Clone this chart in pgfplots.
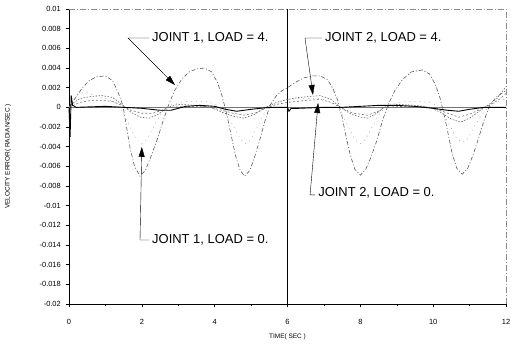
\documentclass[border=0pt]{standalone}
\usepackage{fontspec}
\setmainfont{Liberation Sans}
\usepackage{pgfplots}
\pgfplotsset{compat=1.18}
\usetikzlibrary{arrows.meta}
\begin{document}
\begin{tikzpicture}
\begin{axis}[
  scale only axis, width=437bp, height=295bp,
  xmin=0, xmax=12, ymin=-0.02, ymax=0.01,
  scaled y ticks=false, scaled x ticks=false,
  axis x line*=bottom, axis y line*=left,
  axis line style={-, black, line width=0.6pt},
  xtick={0,2,4,6,8,10,12}, minor xtick={1,3,5,7,9,11},
  ytick={-0.02,-0.018,-0.016,-0.014,-0.012,-0.01,-0.008,-0.006,-0.004,-0.002,0,0.002,0.004,0.006,0.008,0.01},
  yticklabels={-0.02,-0.018,-0.016,-0.014,-0.012,-0.01,-0.008,-0.006,-0.004,-0.002,0,0.002,0.004,0.006,0.008,0.01},
  xticklabels={0,2,4,6,8,10,12},
  tick align=outside, major tick length=3bp, minor tick length=2bp,
  tick style={black, line width=0.5pt},
  xticklabel style={font=\fontsize{7.5}{8}\selectfont, anchor=center, inner sep=0pt, yshift=-15bp},
  yticklabel style={font=\fontsize{7.5}{8}\selectfont, anchor=east, inner sep=0pt, xshift=-5bp},
  /pgf/number format/assume math mode=true,
  xlabel={TIME( SEC )}, ylabel={VELOCITY ERROR( RADIAN/SEC )},
  every axis x label/.style={at={([yshift=-33bp]rel axis cs:0.5,0)}, anchor=center, font=\fontsize{6.5}{7}\selectfont},
  every axis y label/.style={at={([xshift=-61bp]rel axis cs:0,0.5)}, anchor=center, rotate=90, font=\fontsize{6.5}{7}\selectfont},
  clip=false,
]
\coordinate (O) at (rel axis cs:0,0);
\draw[black!45, dash pattern=on 6bp off 2bp on 1bp off 2bp] (rel axis cs:0,1) -- (rel axis cs:1,1) -- (rel axis cs:1,0);
% zero line and t=6 line
\addplot[black!55, line width=0.6pt] coordinates {(0,0) (12,0)};
\addplot[black, line width=0.7pt] coordinates {(6,-0.02) (6,0.01)};
% Joint 1, load = 4 (big)
\addplot[black!65, line width=0.6pt, dash pattern=on 4bp off 2bp on 1bp off 2bp] coordinates {
(0,0) (0.15,0.0008) (0.35,0.0019) (0.55,0.0027) (0.75,0.0031) (1.0,0.0032) (1.2,0.0027) (1.35,0.0015) (1.48,0.0002) (1.58,-0.002) (1.68,-0.0042) (1.8,-0.006) (1.95,-0.007) (2.1,-0.0064) (2.25,-0.005) (2.42,-0.0033) (2.6,-0.0012) (2.75,0.0004) (2.9,0.0017) (3.1,0.0029) (3.3,0.0036) (3.5,0.0039) (3.72,0.004) (3.92,0.0036) (4.08,0.0025) (4.2,0.0012) (4.32,-0.0005) (4.45,-0.0028) (4.58,-0.005) (4.7,-0.0064) (4.82,-0.007) (4.97,-0.0064) (5.1,-0.005) (5.24,-0.0033) (5.38,-0.0014) (5.52,0.0002) (5.7,0.0012) (5.85,0.0017) (6.0,0.002)
(6.2,0.0025) (6.45,0.003) (6.7,0.0032) (6.9,0.0032) (7.1,0.0028) (7.25,0.0019) (7.38,0.0007) (7.5,-0.001) (7.6,-0.0028) (7.72,-0.0048) (7.85,-0.0063) (8.0,-0.0069) (8.15,-0.0063) (8.3,-0.005) (8.46,-0.0033) (8.62,-0.0012) (8.78,0.0004) (8.95,0.0017) (9.15,0.0028) (9.4,0.0036) (9.7,0.0038) (9.9,0.0034) (10.05,0.0024) (10.17,0.0012) (10.28,-0.0004) (10.4,-0.0025) (10.52,-0.0047) (10.65,-0.0062) (10.8,-0.0068) (10.95,-0.0062) (11.1,-0.0048) (11.25,-0.0031) (11.4,-0.0013) (11.55,0.0002) (11.75,0.0011) (12,0.0017)};
% Joint 1, load = 0 (faint)
\addplot[black!35, line width=0.5pt, dash pattern=on 1bp off 4bp] coordinates {
(0,0) (0.2,0.0012) (0.45,0.0016) (0.7,0.0012) (1.0,0.0009) (1.25,0.0005) (1.45,-0.0004) (1.65,-0.0018) (1.85,-0.0033) (2.0,-0.0037) (2.15,-0.0032) (2.35,-0.0018) (2.55,-0.0005) (2.8,0.0003) (3.2,0.0006) (3.7,0.0006) (4.0,0.0004) (4.25,-0.0004) (4.5,-0.0018) (4.7,-0.0032) (4.85,-0.0037) (5.0,-0.0032) (5.2,-0.0018) (5.4,-0.0004) (5.7,0.0005) (6.0,0.0008)
(6.4,0.0009) (6.9,0.0009) (7.2,0.0005) (7.45,-0.0004) (7.65,-0.0018) (7.85,-0.0033) (8.0,-0.0037) (8.15,-0.0032) (8.35,-0.0018) (8.55,-0.0005) (8.8,0.0003) (9.2,0.0006) (9.7,0.0006) (10.0,0.0004) (10.25,-0.0004) (10.45,-0.0018) (10.65,-0.0032) (10.8,-0.0036) (10.95,-0.0032) (11.15,-0.0018) (11.4,-0.0004) (11.7,0.0005) (12,0.0009)};
% Joint 2, load = 4 (upper dotted)
\addplot[black!60, line width=0.6pt, dash pattern=on 1.5bp off 1.5bp] coordinates {
(0,0) (0.1,0.0004) (0.3,0.0009) (0.6,0.0011) (0.9,0.0012) (1.2,0.001) (1.45,0.0003) (1.7,-0.0005) (1.95,-0.001) (2.2,-0.0011) (2.45,-0.0007) (2.7,0) (3.0,0.0003) (3.5,0.0002) (3.9,0) (4.2,-0.0005) (4.5,-0.0009) (4.8,-0.0011) (5.1,-0.0007) (5.4,0) (5.7,0.0005) (6.0,0.0008) (6.3,0.001) (6.6,0.0011) (6.9,0.0012) (7.2,0.0008) (7.45,0) (7.75,-0.0007) (8.0,-0.001) (8.2,-0.0011) (8.45,-0.0006) (8.65,0) (9.0,0.0003) (9.5,0.0002) (9.9,0) (10.2,-0.0005) (10.5,-0.0012) (10.75,-0.0015) (11.0,-0.0011) (11.3,-0.0003) (11.5,0.0002) (11.75,0.0009) (12,0.0021)};
% Joint 2, load = 0 (lower dotted)
\addplot[black!55, line width=0.6pt, dash pattern=on 2bp off 2bp] coordinates {
(0,0) (0.3,0.0005) (0.6,0.0007) (0.9,0.0007) (1.2,0.0006) (1.45,0.0002) (1.7,-0.0003) (2.0,-0.0006) (2.3,-0.0006) (2.55,-0.0003) (2.75,0) (3.2,0.0001) (3.7,0.0001) (4.1,-0.0002) (4.5,-0.0006) (4.8,-0.0008) (5.1,-0.0006) (5.4,-0.0001) (5.7,0.0003) (6.0,0.0005) (6.5,0.0007) (6.9,0.0008) (7.2,0.0005) (7.45,0) (7.8,-0.0006) (8.2,-0.0008) (8.5,-0.0004) (8.65,0) (9.2,0.0001) (9.7,0.0001) (10.1,-0.0002) (10.4,-0.0006) (10.7,-0.001) (11.0,-0.0007) (11.3,-0.0002) (11.6,0.0003) (11.85,0.0009) (12,0.0014)};
% solid near-zero
\addplot[black, line width=0.9pt] coordinates {
(0,0) (0.03,-0.003) (0.06,0.0012) (0.1,0.0002) (0.2,0) (1.0,0.0001) (1.5,0) (2.0,-0.0001) (2.5,-0.0003) (2.8,-0.0003) (3.2,0.0001) (3.6,0.0002) (4.0,0.0001) (4.3,-0.0002) (4.6,-0.0004) (5.0,-0.0002) (5.5,0) (6.0,0) (6.04,-0.0004) (6.1,-0.0001) (6.3,-0.0001) (7,0) (7.5,0) (8,0.0001) (8.5,0.0002) (9,0.0002) (9.5,0.0001) (10,-0.0001) (10.4,-0.0003) (10.7,-0.0004) (11.0,-0.0002) (11.4,0) (12,0)};
% annotations
\begin{scope}[font=\fontsize{13}{15}\selectfont]
\node[anchor=west, inner sep=0pt] at (axis cs:2.28,0.00705) {JOINT 1, LOAD = 4.};
\draw[black, line width=0.4pt, -{Triangle[length=10bp,width=6bp]}] (axis cs:2.2,0.00705) -- (axis cs:1.62,0.00705) -- (axis cs:2.91,0.00227);
\node[anchor=west, inner sep=0pt] at (axis cs:7.03,0.00705) {JOINT 2, LOAD = 4.};
\draw[black, line width=0.4pt, -{Triangle[length=10bp,width=6bp]}] (axis cs:6.95,0.00705) -- (axis cs:6.48,0.00705) -- (axis cs:6.70,0.00126);
\node[anchor=west, inner sep=0pt] at (axis cs:2.28,-0.01349) {JOINT 1, LOAD = 0.};
\draw[black, line width=0.4pt, -{Triangle[length=10bp,width=6bp]}] (axis cs:2.2,-0.01349) -- (axis cs:1.95,-0.01349) -- (axis cs:2.0,-0.00403);
\node[anchor=west, inner sep=0pt] at (axis cs:6.84,-0.00871) {JOINT 2, LOAD = 0.};
\draw[black, line width=0.4pt, -{Triangle[length=10bp,width=6bp]}] (axis cs:6.76,-0.0089) -- (axis cs:6.62,-0.0089) -- (axis cs:6.84,0.00044);
\end{scope}
\end{axis}
\path[use as bounding box] ([shift={(-69bp,-46bp)}]O) rectangle ([shift={(444bp,304bp)}]O);
\end{tikzpicture}
\end{document}
